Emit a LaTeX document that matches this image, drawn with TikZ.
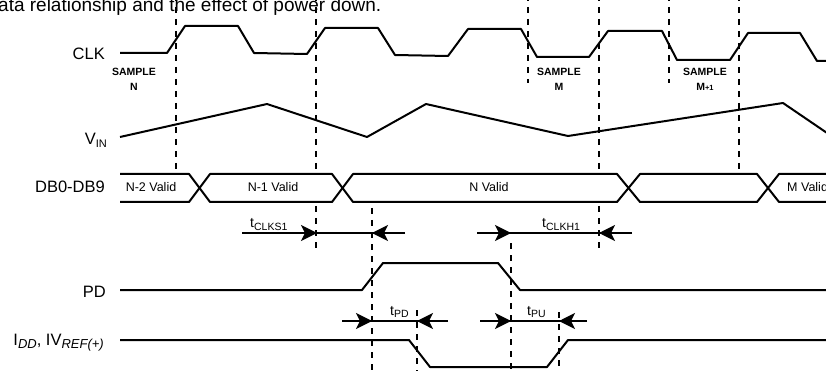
\documentclass[tikz,border=0pt]{standalone}
\usepackage{fontspec}
\setmainfont{Liberation Sans}
\usetikzlibrary{arrows.meta}

\newcommand{\lsub}[2][11]{\raisebox{-3pt}{\fontsize{#1}{#1}\selectfont #2}}
\newcommand{\tdelay}[1]{t\raisebox{-2.5pt}{\fontsize{10.5}{10.5}\selectfont #1}}

\begin{document}
\begin{tikzpicture}[
  x=1pt, y=-1pt,
  wave/.style={line width=2pt, line join=round},
  guide/.style={line width=2pt, dash pattern=on 6pt off 6pt},
  sig/.style={anchor=base east, inner sep=0pt, font=\fontsize{16.5}{18}\selectfont},
  busval/.style={anchor=base, inner sep=0pt, font=\fontsize{12.5}{14}\selectfont},
  smp/.style={anchor=north, inner sep=0pt, align=center, font=\fontsize{10.5}{14.5}\selectfont\bfseries},
  tlabel/.style={anchor=base west, inner sep=0pt, font=\fontsize{14}{16}\selectfont},
  tarrow/.style={-{Stealth[length=16pt,width=16pt,inset=4pt]}, line width=2pt}
]
\useasboundingbox (0,0) rectangle (826,371);

% caption line, cut at the top
\node[anchor=base west, inner sep=0pt, font=\fontsize{19}{21}\selectfont] (title) at (-2,11.5) {ata relationship and the effect of power down.};

% guide lines
\foreach \x/\ya/\yb in {176/-5/174, 316/-5/174, 316/206/248, 528/-5/83,
                        599/-5/174, 599/206/248, 669/-5/83, 739/-5/174,
                        372/208/376, 511/243/376, 417/310/376, 559/312/376}
  \draw[guide] (\x,\ya) -- (\x,\yb);

% signal names
\node[sig] (clk) at (105,60) {CLK};
\node[sig] (vin) at (107,145) {V\lsub{IN}};
\node[sig] (db) at (105,193) {DB0-DB9};
\node[sig] (pd) at (106,297) {PD};
\node[sig] (idd) at (104,345) {I\lsub[13]{\itshape DD}, IV\lsub[13]{\itshape REF(+)}};

% CLK
\draw[wave] (120,53) -- (167,53) -- (185,26) -- (238,26) -- (254,53) -- (307,54)
  -- (325,28) -- (378,28) -- (395,55) -- (448,56) -- (468,29) -- (521,29)
  -- (537,57) -- (589,57) -- (608,31) -- (662,31) -- (677,60) -- (730,60)
  -- (748,33) -- (800,33) -- (817,61) -- (830,61);
\node[smp] (smpN) at (134,68) {SAMPLE\\N};
\node[smp] (smpM) at (559,68) {SAMPLE\\M};
\node[smp] (smpM1) at (705,68) {SAMPLE\\M{\fontsize{7.5}{8}\selectfont+1}};

% V_IN
\draw[wave] (120,137) -- (267,104) -- (367,137) -- (426,104) -- (568,136)
  -- (783,103) -- (830,135);

% DB0-DB9 bus
\draw[wave] (120,174) -- (189,174) -- (210,202) -- (332,202) -- (353,174)
  -- (617,174) -- (640,202) -- (757,202) -- (779,174) -- (830,174);
\draw[wave] (120,202) -- (189,202) -- (210,174) -- (332,174) -- (353,202)
  -- (617,202) -- (640,174) -- (757,174) -- (779,202) -- (830,202);
\node[busval] (n2) at (151,192) {N-2 Valid};
\node[busval] (n1) at (273,192) {N-1 Valid};
\node[busval] (nv) at (489,192) {N Valid};
\node[busval, anchor=base west] (mv) at (787,192) {M Valid};

% tCLKS1, tCLKH1
\coordinate (s1a) at (242,233); \coordinate (s1b) at (317,233);
\coordinate (s1c) at (372,233); \coordinate (s1d) at (405,233);
\draw[wave] (s1a) -- (s1d);
\draw[tarrow] (s1a) -- (s1b);
\draw[tarrow] (s1d) -- (s1c);
\node[tlabel] (tclks) at (250,228) {\tdelay{CLKS1}};

\coordinate (h1a) at (477,233); \coordinate (h1b) at (511,233);
\coordinate (h1c) at (599,233); \coordinate (h1d) at (632,233);
\draw[wave] (h1a) -- (h1d);
\draw[tarrow] (h1a) -- (h1b);
\draw[tarrow] (h1d) -- (h1c);
\node[tlabel] (tclkh) at (542,228) {\tdelay{CLKH1}};

% PD
\draw[wave] (120,290) -- (362,290) -- (383,263) -- (498,263) -- (520,290) -- (830,290);

% tPD, tPU
\coordinate (pda) at (342,321); \coordinate (pdb) at (372,321);
\coordinate (pdc) at (417,321); \coordinate (pdd) at (448,321);
\draw[wave] (pda) -- (pdd);
\draw[tarrow] (pda) -- (pdb);
\draw[tarrow] (pdd) -- (pdc);
\node[tlabel] (tpd) at (390,315) {\tdelay{PD}};

\coordinate (pua) at (480,321); \coordinate (pub) at (511,321);
\coordinate (puc) at (559,321); \coordinate (pud) at (587,321);
\draw[wave] (pua) -- (pud);
\draw[tarrow] (pua) -- (pub);
\draw[tarrow] (pud) -- (puc);
\node[tlabel] (tpu) at (527,315) {\tdelay{PU}};

% I_DD
\draw[wave] (120,340) -- (409,340) -- (430,367) -- (547,367) -- (568,340) -- (830,340);
\end{tikzpicture}
\end{document}
